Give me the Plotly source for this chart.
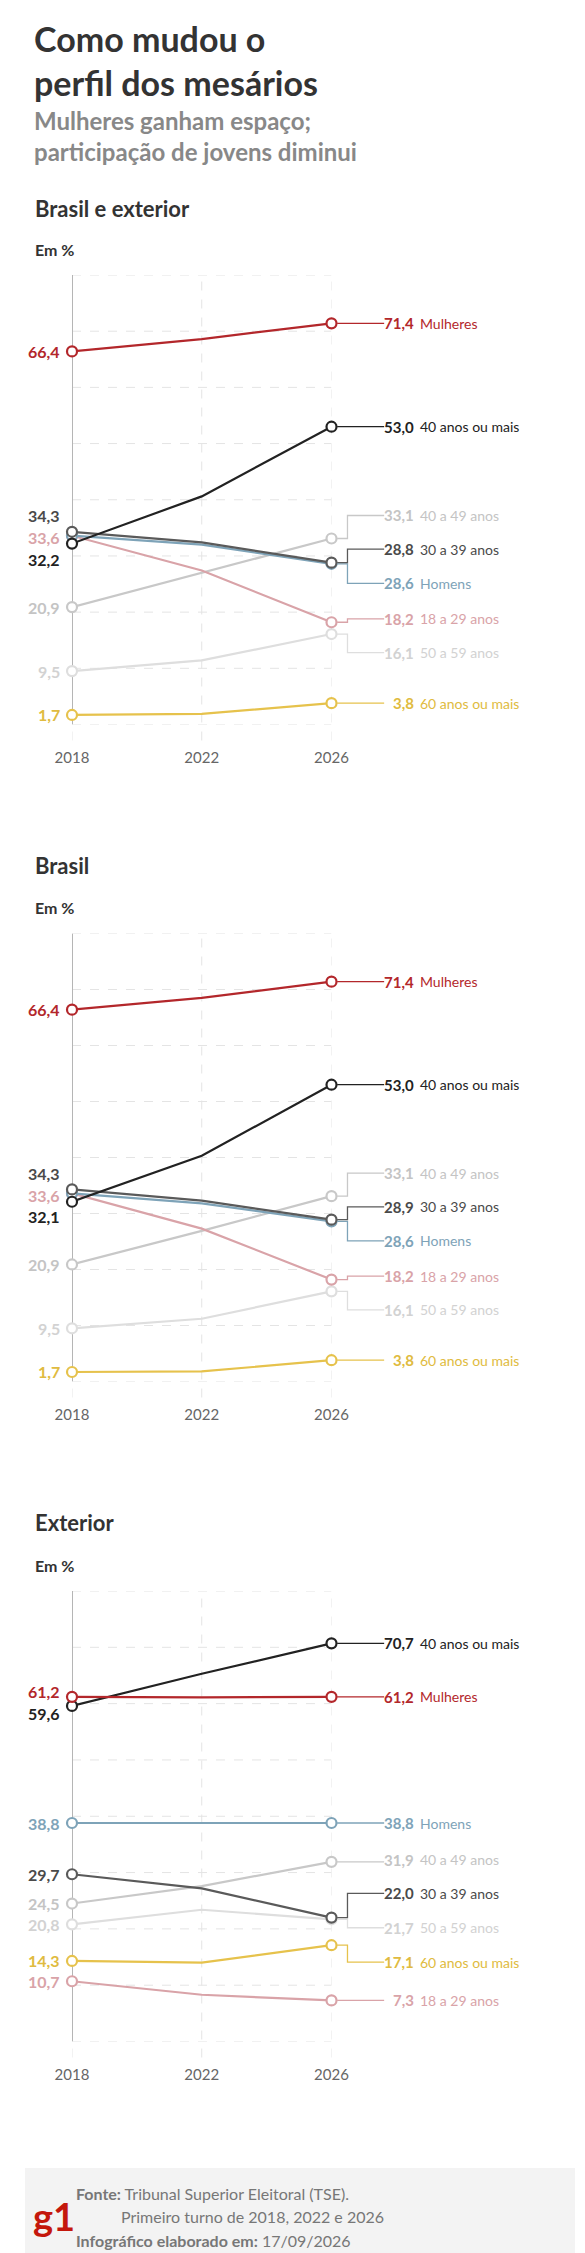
import plotly.graph_objects as go

years = [2018, 2022, 2026]
series_names = ["Mulheres", "40 anos ou mais", "30 a 39 anos", "Homens",
                "18 a 29 anos", "40 a 49 anos", "50 a 59 anos", "60 anos ou mais"]

# Brasil e exterior
t_mulheres = [66.4, 68.6, 71.4]
t_40mais = [32.2, 40.6, 53.0]
t_30_39 = [34.3, 32.4, 28.8]
t_homens = [33.6, 32.0, 28.6]
t_18_29 = [33.6, 27.4, 18.2]
t_40_49 = [20.9, 27.0, 33.1]
t_50_59 = [9.5, 11.4, 16.1]
t_60mais = [1.7, 1.9, 3.8]

# Brasil
b_mulheres = [66.4, 68.5, 71.4]
b_40mais = [32.1, 40.3, 53.0]
b_30_39 = [34.3, 32.3, 28.9]
b_homens = [33.6, 31.8, 28.6]
b_18_29 = [33.6, 27.3, 18.2]
b_40_49 = [20.9, 26.9, 33.1]
b_50_59 = [9.5, 11.2, 16.1]
b_60mais = [1.7, 1.8, 3.8]

# Exterior
e_mulheres = [61.2, 61.1, 61.2]
e_40mais = [59.6, 65.3, 70.7]
e_30_39 = [29.7, 27.2, 22.0]
e_homens = [38.8, 38.8, 38.8]
e_18_29 = [10.7, 8.3, 7.3]
e_40_49 = [24.5, 27.6, 31.9]
e_50_59 = [20.8, 23.4, 21.7]
e_60mais = [14.3, 14.0, 17.1]

panels = [
    ("Brasil e exterior", [t_mulheres, t_40mais, t_30_39, t_homens, t_18_29, t_40_49, t_50_59, t_60mais]),
    ("Brasil", [b_mulheres, b_40mais, b_30_39, b_homens, b_18_29, b_40_49, b_50_59, b_60mais]),
    ("Exterior", [e_mulheres, e_40mais, e_30_39, e_homens, e_18_29, e_40_49, e_50_59, e_60mais]),
]

# styling / layout
line_colors = ["#b3272b", "#222222", "#5a5a5a", "#7ea3b8", "#d9a3a8", "#c8c8c8", "#dedede", "#e6c24c"]
text_colors = ["#b3272b", "#222222", "#4a4a4a", "#7ea3b8", "#d9a3a8", "#c4c4c4", "#d2d2d2", "#e0bb40"]
W, H = 585, 2253
panel_px = [(716.5, 267), (1373.5, 925.5), (2033.5, 1583)]
title_px = [(200, 242), (857, 900), (1514, 1557)]
right_pos = [
    [71.4, 53.0, 31.2, 25.1, 18.8, 37.2, 12.8, 3.8],
    [71.4, 53.0, 31.2, 25.1, 18.8, 37.2, 12.8, 3.8],
    [61.2, 70.7, 26.3, 38.8, 7.3, 32.3, 20.2, 14.1],
]
left_show = [
    {0: 66.4, 1: 29.4, 2: 37.2, 4: 33.3, 5: 20.9, 6: 9.5, 7: 1.7},
    {0: 66.4, 1: 29.4, 2: 37.2, 4: 33.3, 5: 20.9, 6: 9.5, 7: 1.7},
    {0: 62.2, 1: 58.3, 2: 29.7, 3: 38.8, 4: 10.7, 5: 24.5, 6: 20.8, 7: 14.3},
]
order = [6, 5, 4, 7, 3, 2, 1, 0]

X0, X1 = 50, 326
FONT = "Lato"
fig = go.Figure()
ann = []
shapes = []

def fmt(v):
    return f"{v:.1f}".replace(".", ",")

for p, (ptitle, data) in enumerate(panels):
    y0px, y80px = panel_px[p]
    n = "" if p == 0 else str(p + 1)
    xa, ya = "x" + n, "y" + n
    dom_y = [1 - y0px / H, 1 - y80px / H]
    fig.update_layout(**{
        ("xaxis" + n): dict(domain=[X0 / W, X1 / W], range=[2018, 2026], anchor=ya,
                             tickvals=years, ticktext=[str(y) for y in years],
                             showgrid=False, zeroline=False, showline=False, ticks="",
                             ticklabelstandoff=22,
                             tickfont=dict(family=FONT, size=15, color="#666"), fixedrange=True),
        ("yaxis" + n): dict(domain=dom_y, range=[0, 80], anchor=xa, showgrid=False,
                             zeroline=False, showticklabels=False, showline=False, fixedrange=True),
    })
    for g in range(0, 81, 10):
        shapes.append(dict(type="line", xref=xa, yref=ya, x0=2018, x1=2026, y0=g, y1=g,
                           line=dict(color="#e4e4e4", width=1, dash="dash"), layer="below"))
    for yr in [2018, 2022, 2026]:
        shapes.append(dict(type="line", xref=xa, yref="paper", x0=yr, x1=yr,
                           y0=1 - (y0px + 16) / H, y1=1 - y80px / H,
                           line=dict(color="#e4e4e4", width=1, dash="dash"), layer="below"))
    shapes.append(dict(type="line", xref=xa, yref=ya, x0=2018, x1=2018, y0=0, y1=80,
                       line=dict(color="#b5b5b5", width=2), layer="below"))
    for i in order:
        vals = data[i]
        fig.add_trace(go.Scatter(
            x=years, y=vals, xaxis=xa, yaxis=ya, mode="lines", showlegend=False,
            line=dict(color=line_colors[i], width=2.2), hoverinfo="skip", cliponaxis=False))
        fig.add_trace(go.Scatter(
            x=[years[0], years[2]], y=[vals[0], vals[2]], xaxis=xa, yaxis=ya, mode="markers",
            showlegend=False, cliponaxis=False, hoverinfo="skip",
            marker=dict(size=10, color="white", line=dict(color=line_colors[i], width=2.2))))
        ly = right_pos[p][i]
        xa_px = (X1 + 6) / W
        xb = 343 / W
        xc = 382 / W
        if abs(ly - vals[2]) < 0.6:
            shapes.append(dict(type="line", xref="paper", yref=ya, x0=xa_px, x1=xc, y0=vals[2], y1=vals[2],
                               line=dict(color=line_colors[i], width=1.3)))
        else:
            shapes.append(dict(type="path", xref="paper", yref=ya,
                               path=f"M {xa_px},{vals[2]} L {xb},{vals[2]} L {xb},{ly} L {xc},{ly}",
                               line=dict(color=line_colors[i], width=1.3)))
        ann.append(dict(xref="paper", yref=ya, x=416 / W, y=ly, xanchor="right", yanchor="middle",
                        text=f"<b>{fmt(vals[2])}</b>", showarrow=False,
                        font=dict(family=FONT, size=15, color=text_colors[i])))
        ann.append(dict(xref="paper", yref=ya, x=418 / W, y=ly, xanchor="left", yanchor="middle",
                        text=series_names[i], showarrow=False,
                        font=dict(family=FONT, size=14, color=text_colors[i])))
        if i in left_show[p]:
            ann.append(dict(xref="paper", yref=ya, x=39 / W, y=left_show[p][i], xanchor="right",
                            yanchor="middle", text=f"<b>{fmt(vals[0])}</b>", showarrow=False,
                            font=dict(family=FONT, size=16, color=text_colors[i])))
    ty, ey = title_px[p]
    ann.append(dict(xref="paper", yref="paper", x=8 / W, y=1 - ty / H, xanchor="left", yanchor="middle",
                    text=f"<b>{ptitle}</b>", showarrow=False, font=dict(family=FONT, size=22, color="#333")))
    ann.append(dict(xref="paper", yref="paper", x=8 / W, y=1 - ey / H, xanchor="left", yanchor="middle",
                    text="<b>Em %</b>", showarrow=False, font=dict(family=FONT, size=16, color="#333")))

ann.append(dict(xref="paper", yref="paper", x=7 / W, y=1 - 8 / H, xanchor="left", yanchor="top",
                text="<b>Como mudou o<br>perfil dos mesários</b>", showarrow=False, align="left",
                font=dict(family=FONT, size=34, color="#333")))
ann.append(dict(xref="paper", yref="paper", x=7 / W, y=1 - 96 / H, xanchor="left", yanchor="top",
                text="<b>Mulheres ganham espaço;<br>participação de jovens diminui</b>", showarrow=False,
                align="left", font=dict(family=FONT, size=24, color="#888")))
shapes.append(dict(type="rect", xref="paper", yref="paper", x0=0, x1=1, y0=0, y1=1 - 2160 / H,
                   fillcolor="#f3f3f3", line=dict(width=0), layer="below"))
ann.append(dict(xref="paper", yref="paper", x=6 / W, y=1 - 2208 / H, xanchor="left", yanchor="middle",
                text="<b>g1</b>", showarrow=False, font=dict(family=FONT, size=38, color="#c4170c")))
ann.append(dict(xref="paper", yref="paper", x=52 / W, y=1 - 2185 / H, xanchor="left", yanchor="middle",
                text="<b>Fonte:</b> Tribunal Superior Eleitoral (TSE).", showarrow=False,
                font=dict(family=FONT, size=16, color="#777")))
ann.append(dict(xref="paper", yref="paper", x=100 / W, y=1 - 2208 / H, xanchor="left", yanchor="middle",
                text="Primeiro turno de 2018, 2022 e 2026", showarrow=False,
                font=dict(family=FONT, size=16, color="#777")))
ann.append(dict(xref="paper", yref="paper", x=52 / W, y=1 - 2232 / H, xanchor="left", yanchor="middle",
                text="<b>Infográfico elaborado em:</b> 17/09/2026", showarrow=False,
                font=dict(family=FONT, size=16, color="#777")))

fig.update_layout(width=W, height=H, margin=dict(l=0, r=0, t=0, b=0),
                  paper_bgcolor="white", plot_bgcolor="white",
                  annotations=ann, shapes=shapes, font=dict(family=FONT))
fig.write_html("out.html", config={"displayModeBar": False})
